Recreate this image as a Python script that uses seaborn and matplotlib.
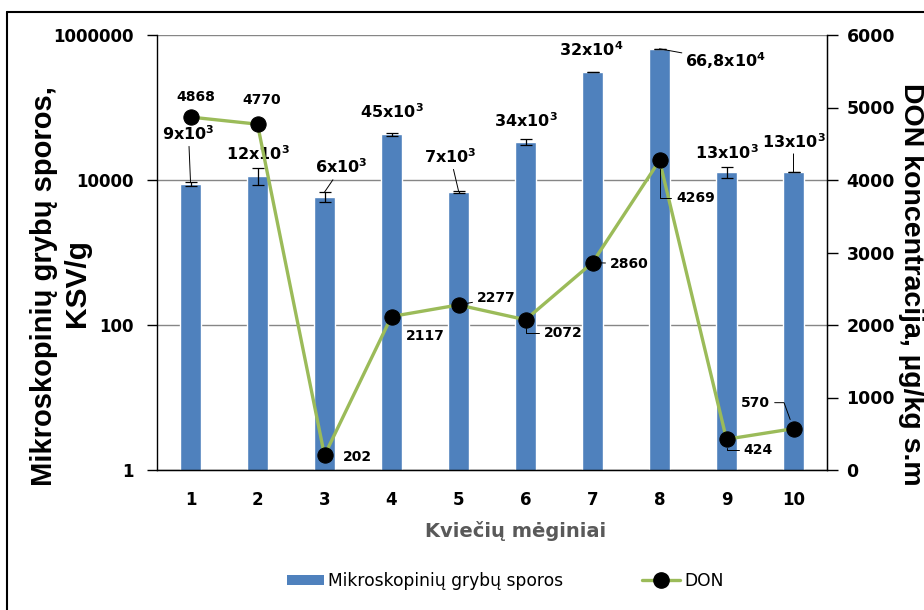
import numpy as np
import matplotlib
matplotlib.use("Agg")
import matplotlib.pyplot as plt
import seaborn as sns
from matplotlib.lines import Line2D
from matplotlib.patches import Patch

# ---------------- data ----------------
categories = ['1', '2', '3', '4', '5', '6', '7', '8', '9', '10']
spores = [8800, 11500, 5900, 43000, 6900, 33500, 305000, 645000, 12800, 12800]
spore_err = [650, 3000, 900, 2000, 200, 3000, 0, 0, 2100, 0]
spore_labels = [r'9x10$^{3}$', r'12x10$^{3}$', r'6x10$^{3}$', r'45x10$^{3}$', r'7x10$^{3}$',
                r'34x10$^{3}$', r'32x10$^{4}$', r'66,8x10$^{4}$', r'13x10$^{3}$', r'13x10$^{3}$']
don = [4868, 4770, 202, 2117, 2277, 2072, 2860, 4269, 424, 570]
left_ticks = [1, 100, 10000, 1000000]
left_ticklabels = ['1', '100', '10000', '1000000']
right_ticks = [0, 1000, 2000, 3000, 4000, 5000, 6000]

BLUE = '#4F81BD'
GREEN = '#9BBB59'

sns.set_style('white')
plt.rcParams['font.family'] = ['DejaVu Sans']
plt.rcParams['mathtext.default'] = 'bf'
for k in ['text.color', 'axes.labelcolor', 'xtick.color', 'ytick.color', 'axes.edgecolor']:
    plt.rcParams[k] = 'black'

W, H = 924, 610
fig = plt.figure(figsize=(W / 100, H / 100), dpi=100)
ax = fig.add_axes([157 / W, 1 - 470 / H, 670 / W, 435 / H])

sns.barplot(x=categories, y=spores, color=BLUE, saturation=1, width=0.31,
            errorbar=None, ax=ax, zorder=2)
ax.set_yscale('log')
ax.errorbar(np.arange(len(categories)), spores, yerr=spore_err, fmt='none',
            ecolor='black', elinewidth=0.9, capsize=4.3, capthick=0.9, zorder=3)
ax.set_ylim(1, 1e6)
ax.yaxis.set_major_locator(matplotlib.ticker.FixedLocator(left_ticks))
ax.yaxis.set_minor_locator(matplotlib.ticker.NullLocator())
ax.set_yticklabels(left_ticklabels)
ax.grid(axis='y', color='#868686', lw=1)
ax.set_axisbelow(True)

# x ticks: labels at centres, marks at boundaries
ax.set_xticks(np.arange(len(categories)))
ax.set_xticklabels(categories)
ax.set_xticks(np.arange(len(categories) + 1) - 0.5, minor=True)
ax.tick_params(axis='x', which='major', length=0, pad=15, labelsize=12)
ax.tick_params(axis='x', which='minor', length=6, width=1, color='black', direction='out')
ax.tick_params(axis='y', which='major', length=7, width=1, color='black', direction='out',
               labelsize=12, pad=10, left=True)
for lab in ax.get_xticklabels() + ax.get_yticklabels():
    lab.set_fontweight('bold')

ax.set_xlabel('Kviečių mėginiai', fontsize=14, fontweight='bold', color='#595959')
ax.xaxis.set_label_coords((516 - 157) / 670, -(521 - 470) / 435)
ax.set_ylabel('')
ax.spines['top'].set_visible(False)
for s in ['left', 'bottom', 'right']:
    ax.spines[s].set_color('black')
    ax.spines[s].set_linewidth(1)

# bar labels
bar_offsets = [(-2, 48), (0, 15), (17, 25), (0, 21), (-8, 34), (0, 19), (-1, 23), (66, -12), (0, 15), (0, 31)]
bar_leader = [True, False, True, False, True, False, False, True, False, True]
for i, (v, e, lab) in enumerate(zip(spores, spore_err, spore_labels)):
    dx, dy = bar_offsets[i]
    ap = dict(arrowstyle='-', lw=0.7, color='black', shrinkA=0, shrinkB=0) if bar_leader[i] else None
    ax.annotate(lab, xy=(i, v + e), xytext=(dx, dy), textcoords='offset pixels',
                ha='center', va='center', fontsize=11.5, fontweight='bold', arrowprops=ap, zorder=5)

# DON line on secondary axis
ax2 = ax.twinx()
sns.lineplot(x=np.arange(len(don)), y=don, color=GREEN, lw=2.4, marker='o', markersize=11,
             markerfacecolor='black', markeredgecolor='black', ax=ax2, legend=False)
ax2.set_ylim(0, 6000)
ax2.set_yticks(right_ticks)
ax2.set_yticklabels([str(t) for t in right_ticks])
ax2.tick_params(axis='y', length=8, width=1, color='black', direction='out', labelsize=12.5, pad=6)
for lab in ax2.get_yticklabels():
    lab.set_fontweight('bold')
ax2.set_ylabel('')
ax2.set_xlabel('')
ax2.spines['top'].set_visible(False)
ax2.spines['left'].set_visible(False)
ax2.spines['right'].set_color('black')
ax2.grid(False)
ax.set_xlim(-0.5, len(categories) - 0.5)
ax2.set_xlim(-0.5, len(categories) - 0.5)

don_offsets = [(5, 20), (4, 24), (33, -2), (34, -19), (38, 7), (38, -13), (37, -1), (36, -38), (32, -11), (-38, 26)]
don_style = ['none', 'none', 'none', 'none', 'line', 'elbow', 'line', 'elbow', 'elbow', 'line570']
for i, v in enumerate(don):
    dx, dy = don_offsets[i]
    st = don_style[i]
    if st == 'none':
        ap = None
    elif st == 'line':
        ap = dict(arrowstyle='-', lw=0.7, color='black', shrinkA=1, shrinkB=6)
    elif st == 'elbow':
        ap = dict(arrowstyle='-', lw=0.7, color='black', shrinkA=1, shrinkB=6,
                  relpos=(0, 0.5), connectionstyle='angle,angleA=180,angleB=90,rad=0')
    else:
        ap = dict(arrowstyle='-', lw=0.7, color='black', shrinkA=1, shrinkB=7,
                  relpos=(1, 0.5), connectionstyle='angle,angleA=0,angleB=110,rad=0')
    ax2.annotate(str(v), xy=(i, v), xytext=(dx, dy), textcoords='offset pixels',
                 ha='center', va='center', fontsize=10, fontweight='bold', arrowprops=ap, zorder=6)

# axis titles
title_font = ['Liberation Sans', 'DejaVu Sans']
fig.text(44 / W, 1 - 286 / H, 'Mikroskopinių grybų sporos,', rotation=90,
         ha='center', va='center', fontsize=21, fontweight='bold', family=title_font)
fig.text(77 / W, 1 - 283 / H, 'KSV/g', rotation=90,
         ha='center', va='center', fontsize=21.5, fontweight='bold', family=title_font)
fig.text(911 / W, 1 - 284 / H, 'DON koncentracija, µg/kg s.m', rotation=270,
         ha='center', va='center', fontsize=20.5, fontweight='bold', family=title_font)

# legend
handles = [Patch(facecolor=BLUE, edgecolor='none'),
           Line2D([], [], color=GREEN, lw=2.4, marker='o', markersize=11,
                  markerfacecolor='black', markeredgecolor='black')]
fig.legend(handles, ['Mikroskopinių grybų sporos', 'DON'], loc='center',
           bbox_to_anchor=(505 / W, 1 - 581 / H), ncol=2, frameon=False, fontsize=12.3,
           handlelength=2.2, handleheight=0.6, handletextpad=0.25, columnspacing=4.6)

# outer frame (top and left visible)
fig.add_artist(Line2D([7 / W, 7 / W], [0, 1 - 12 / H], transform=fig.transFigure, color='black', lw=1.5))
fig.add_artist(Line2D([7 / W, 1], [1 - 12 / H, 1 - 12 / H], transform=fig.transFigure, color='black', lw=1.5))

fig.savefig('out.png', dpi=100)
